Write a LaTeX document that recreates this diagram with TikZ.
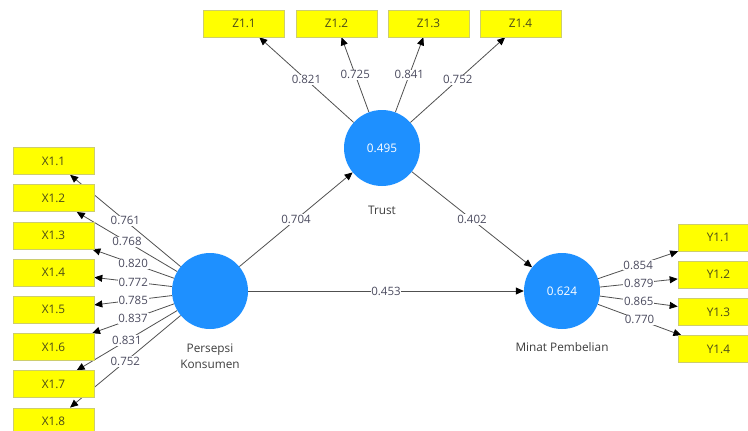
\documentclass[tikz,border=0pt]{standalone}
\usepackage{fontspec}
\setmainfont{Open Sans}
\usetikzlibrary{arrows.meta,backgrounds}
\definecolor{boxyellow}{RGB}{255,255,0}
\definecolor{boxborder}{RGB}{205,205,110}
\definecolor{lvblue}{RGB}{30,144,255}
\definecolor{edgegray}{RGB}{80,80,80}
\definecolor{lbltext}{RGB}{75,75,95}
\definecolor{boxtext}{RGB}{75,75,25}
\definecolor{nametext}{RGB}{60,60,60}
\begin{document}
\begin{tikzpicture}[x=1pt,y=-1pt,
  ind/.style={draw=boxborder, line width=0.6pt, fill=boxyellow, minimum width=81pt, minimum height=27pt, inner sep=0pt, text=boxtext, font=\fontsize{11.8}{13}\selectfont},
  lv/.style={circle, fill=lvblue, minimum size=76pt, inner sep=0pt, text=white, font=\fontsize{11.8}{13}\selectfont},
  edge/.style={draw=edgegray, line width=0.8pt, -{Triangle[length=8pt,width=7pt,color=black]}},
  lbl/.style={fill=white, inner sep=0.8pt, text=lbltext, font=\fontsize{11.5}{13}\selectfont},
  lvname/.style={text=nametext, align=center, font=\fontsize{11.8}{16}\selectfont}
]
\useasboundingbox (0,0) rectangle (748,431);

% latent variables
\node[lv] (T) at (382,148) {0.495};
\node[lv] (P) at (210,291) {};
\node[lv] (M) at (562,291) {0.624};
\node[lvname] (Tn) at (382,210) {Trust};
\node[lvname] (Pn) at (210,356) {Persepsi\\Konsumen};
\node[lvname] (Mn) at (562,347) {Minat Pembelian};

% indicators
\node[ind] (Z1) at (244,23.5) {Z1.1};
\node[ind] (Z2) at (336.5,23.5) {Z1.2};
\node[ind] (Z3) at (428.5,23.5) {Z1.3};
\node[ind] (Z4) at (520.5,23.5) {Z1.4};

\node[ind] (X1) at (53.5,161) {X1.1};
\node[ind] (X2) at (53.5,198.2) {X1.2};
\node[ind] (X3) at (53.5,235.4) {X1.3};
\node[ind] (X4) at (53.5,272.6) {X1.4};
\node[ind] (X5) at (53.5,309.8) {X1.5};
\node[ind] (X6) at (53.5,347) {X1.6};
\node[ind] (X7) at (53.5,384.2) {X1.7};
\node[ind] (X8) at (53.5,421.4) {X1.8};

\node[ind] (Y1) at (718.5,237.5) {Y1.1};
\node[ind] (Y2) at (718.5,274.7) {Y1.2};
\node[ind] (Y3) at (718.5,311.9) {Y1.3};
\node[ind] (Y4) at (718.5,349.1) {Y1.4};

\begin{pgfonlayer}{background}
% structural paths
\draw[edge] (P) -- node[lbl] {0.704} (T);
\draw[edge] (T) -- node[lbl] {0.402} (M);
\draw[edge] (P) -- node[lbl] {0.453} (M);
% Trust loadings
\draw[edge] (T) -- node[lbl] {0.821} (Z1);
\draw[edge] (T) -- node[lbl] {0.725} (Z2);
\draw[edge] (T) -- node[lbl] {0.841} (Z3);
\draw[edge] (T) -- node[lbl] {0.752} (Z4);
% Persepsi loadings
\draw[edge] (P) -- node[lbl] {0.761} (X1);
\draw[edge] (P) -- node[lbl] {0.768} (X2);
\draw[edge] (P) -- node[lbl] {0.820} (X3);
\draw[edge] (P) -- node[lbl] {0.772} (X4);
\draw[edge] (P) -- node[lbl] {0.785} (X5);
\draw[edge] (P) -- node[lbl] {0.837} (X6);
\draw[edge] (P) -- node[lbl] {0.831} (X7);
\draw[edge] (P) -- node[lbl] {0.752} (X8);
% Minat loadings
\draw[edge] (M) -- node[lbl] {0.854} (Y1);
\draw[edge] (M) -- node[lbl] {0.879} (Y2);
\draw[edge] (M) -- node[lbl] {0.865} (Y3);
\draw[edge] (M) -- node[lbl] {0.770} (Y4);
\end{pgfonlayer}
\end{tikzpicture}
\end{document}
